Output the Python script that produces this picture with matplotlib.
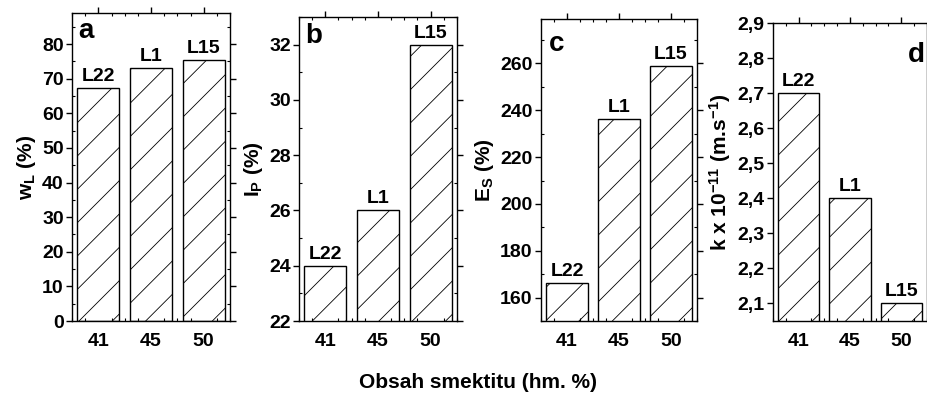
import matplotlib
matplotlib.use('Agg')
import matplotlib.pyplot as plt
from matplotlib.ticker import MultipleLocator, FuncFormatter

plt.rcParams['font.family'] = ['Liberation Sans', 'DejaVu Sans']
plt.rcParams['font.weight'] = 'bold'
plt.rcParams['mathtext.fontset'] = 'custom'
plt.rcParams['mathtext.rm'] = 'Liberation Sans:bold'
plt.rcParams['mathtext.it'] = 'Liberation Sans:bold'
plt.rcParams['mathtext.bf'] = 'Liberation Sans:bold'
plt.rcParams['hatch.linewidth'] = 0.6
plt.rcParams['axes.unicode_minus'] = False

# data
smectite = ['41', '45', '50']
samples = ['L22', 'L1', 'L15']
w_L = [67.2, 73.2, 75.5]
I_P = [24, 26, 32]
E_S = [166.3, 236.3, 259]
k_val = [2.7, 2.4, 2.1]

panels = [
    # values, letter, ylabel, ylim, major, minor, rect, letter pos, comma
    (w_L, 'a', r'w$_\mathregular{L}$ (%)', (0, 89), 10, 5,
     [72, 230, 13], (0.04, 0.985, 'left'), False),
    (I_P, 'b', r'I$_\mathregular{P}$ (%)', (22, 33), 2, 1,
     [299, 457, 17], (0.04, 0.98, 'left'), False),
    (E_S, 'c', r'E$_\mathregular{S}$ (%)', (150, 279), 20, 10,
     [541, 697, 19], (0.05, 0.96, 'left'), False),
    (k_val, 'd', r'k x 10$^\mathregular{-11}$ (m.s$^\mathregular{-1}$)', (2.05, 2.9), 0.1, None,
     [773, 927, 23], (0.985, 0.935, 'right'), True),
]

W, H = 928, 399
fig = plt.figure(figsize=(W / 100, H / 100), dpi=100)
bottom_px = 321

for vals, letter, ylab, ylim, major, minor, rect, lpos, comma in panels:
    x0, x1, top = rect
    ax = fig.add_axes([x0 / W, 1 - bottom_px / H, (x1 - x0) / W, (bottom_px - top) / H])
    pos = range(len(vals))
    bars = ax.bar(pos, vals, width=0.8, color='white', edgecolor='black',
                  hatch='/', linewidth=1.0)
    for b, s in zip(bars, samples):
        ax.text(b.get_x() + b.get_width() / 2, b.get_height() + (ylim[1] - ylim[0]) * 0.01,
                s, ha='center', va='bottom', fontsize=14, fontweight='bold')
    ax.set_xlim(-0.5, 2.5)
    ax.set_ylim(*ylim)
    ax.set_xticks(list(pos))
    ax.set_xticklabels(smectite)
    ax.yaxis.set_major_locator(MultipleLocator(major))
    if minor:
        ax.yaxis.set_minor_locator(MultipleLocator(minor))
    ax.xaxis.set_minor_locator(MultipleLocator(0.25))
    if comma:
        ax.yaxis.set_major_formatter(FuncFormatter(lambda v, p: f'{v:.1f}'.replace('.', ',')))
    ax.tick_params(axis='both', which='major', labelsize=14, length=4, width=1,
                   direction='out', top=True, right=True, pad=2)
    ax.tick_params(axis='both', which='minor', length=2.5, width=0.8,
                   direction='in', top=True, right=True)
    ax.tick_params(axis='x', which='major', bottom=False, pad=5)
    for t in ax.get_xticklabels() + ax.get_yticklabels():
        t.set_fontweight('bold')
    ax.set_ylabel(ylab, fontsize=15, fontweight='bold', labelpad=3)
    for sp in ax.spines.values():
        sp.set_linewidth(1.0)
    ax.text(lpos[0], lpos[1], letter, transform=ax.transAxes, ha=lpos[2], va='top',
            fontsize=20, fontweight='bold')

fig.text(478 / W, 1 - 383 / H, 'Obsah smektitu (hm. %)', ha='center', va='center',
         fontsize=15, fontweight='bold')

fig.savefig('out.png', dpi=100)
